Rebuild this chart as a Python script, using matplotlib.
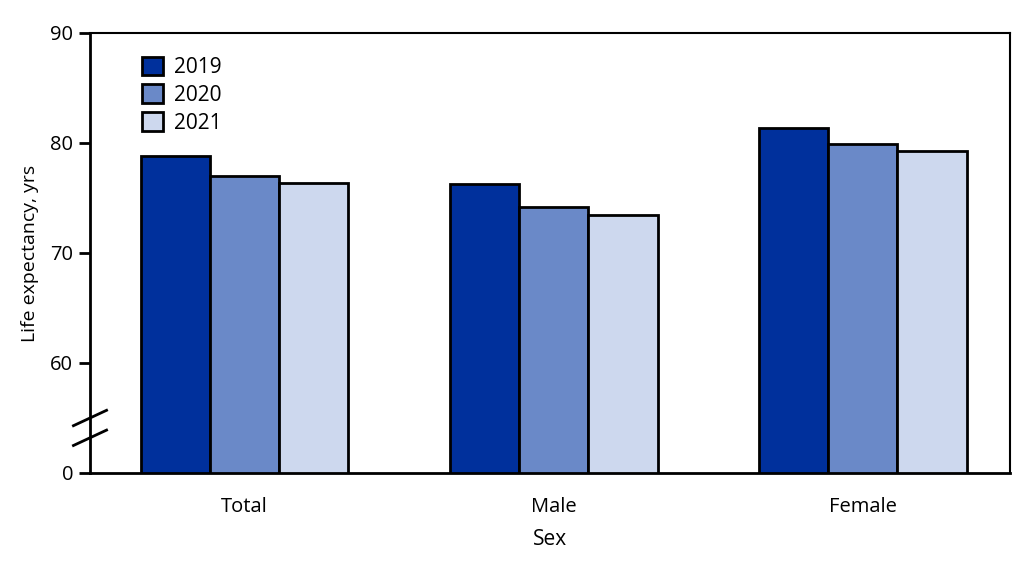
import matplotlib
matplotlib.use("Agg")
import matplotlib.pyplot as plt
import matplotlib.transforms as mtransforms
from matplotlib.patches import Patch
import numpy as np

plt.rcParams['font.family'] = ['Open Sans', 'DejaVu Sans']

# data
sexes = ['Total', 'Male', 'Female']
years = ['2019', '2020', '2021']
life_2019 = [78.8, 76.3, 81.4]
life_2020 = [77.0, 74.2, 79.9]
life_2021 = [76.4, 73.5, 79.3]
yticks = [50, 60, 70, 80, 90]
ytick_labels = ['0', '60', '70', '80', '90']

colors = ['#00309c', '#6a89c8', '#cdd8ee']
base = 50  # axis break: "0" is drawn where 50 would be

fig = plt.figure(figsize=(10.24, 5.61), dpi=100)
ax = fig.add_axes([90 / 1024, 1 - 473 / 561, 920 / 1024, 440 / 561])

x = np.arange(len(sexes))
w = 0.224
for i, (vals, c) in enumerate(zip([life_2019, life_2020, life_2021], colors)):
    ax.bar(x + (i - 1) * w, np.array(vals) - base, w, bottom=base,
           color=c, edgecolor='black', linewidth=2, zorder=3)

ax.set_xlim(-0.5, 2.476)
ax.set_ylim(50, 90)
ax.set_yticks(yticks)
ax.set_yticklabels(ytick_labels, fontsize=14.5)
ax.set_xticks(x)
ax.set_xticklabels(sexes, fontsize=14.5)
ax.tick_params(axis='x', length=0, pad=17)
ax.tick_params(axis='y', length=8, width=2, pad=4)
for s in ax.spines.values():
    s.set_linewidth(1.5)
ax.spines['left'].set_linewidth(2)
ax.spines['bottom'].set_linewidth(2)

ax.set_ylabel('Life expectancy, yrs', fontsize=14, labelpad=8)
ax.set_xlabel('Sex', fontsize=15, labelpad=9)

# axis break marks
trans = mtransforms.blended_transform_factory(ax.transAxes, ax.transData)
for yb in [55.0, 53.2]:
    ax.plot([-0.018, 0.018], [yb - 0.7, yb + 0.7], color='black', lw=2,
            transform=trans, clip_on=False, zorder=5)

handles = [Patch(facecolor=c, edgecolor='black', linewidth=2) for c in colors]
ax.legend(handles, years, loc='upper left', bbox_to_anchor=(0.048, 0.965),
          frameon=False, fontsize=15, handlelength=1.0, handleheight=1.0,
          handletextpad=0.5, labelspacing=0.3, borderaxespad=0)

fig.savefig('out.png', dpi=100)
